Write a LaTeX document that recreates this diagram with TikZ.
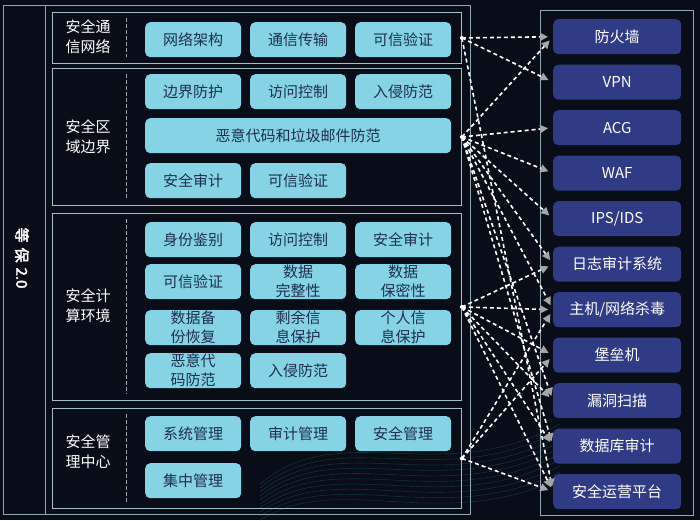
\documentclass[tikz,border=0pt]{standalone}
\usepackage{fontspec}
\setmainfont{Noto Sans CJK SC}
\newfontfamily\boldcjk[FakeBold=2.5]{Noto Sans CJK SC}
\usetikzlibrary{arrows.meta}
\definecolor{bg}{HTML}{080D17}
\definecolor{framec}{HTML}{8FA9B0}
\definecolor{secline}{HTML}{A3BEC4}
\definecolor{cyanbox}{HTML}{86D3E6}
\definecolor{cyantext}{HTML}{1E2F4C}
\definecolor{bluebox}{HTML}{2F3B85}
\definecolor{wavec}{HTML}{1B5563}
\begin{document}
\begin{tikzpicture}[x=1pt,y=-1pt,
  framel/.style={draw=framec, line width=0.8pt},
  secbox/.style={rectangle, draw=secline, line width=0.9pt, anchor=north west, inner sep=0pt, minimum width=409pt},
  divider/.style={draw=gray!70, dashed, dash pattern=on 4pt off 2pt, line width=0.8pt},
  cbox/.style={rectangle, rounded corners=5pt, fill=cyanbox, text=cyantext, minimum width=96pt, minimum height=35pt, inner sep=0pt, anchor=north west, align=center, font=\fontsize{15}{19}\selectfont},
  rbox/.style={rectangle, rounded corners=5pt, fill=bluebox, text=white, minimum width=128pt, minimum height=35pt, inner sep=0pt, anchor=north west, font=\fontsize{15}{18}\selectfont},
  lbl/.style={text=white, align=center, font=\fontsize{15}{20}\selectfont},
  flow/.style={draw=white, dash pattern=on 4pt off 3pt, line width=1.6pt, -{Triangle[length=8pt,width=8pt,color=gray!70]}, shorten >=5pt},
  wave/.style={draw=wavec, line width=0.6pt, opacity=0.5}
]
\fill[bg] (0,0) rectangle (700,520);
\useasboundingbox (0,0) rectangle (700,520);

% decorative waves at the bottom
\foreach \i in {0,...,9} {
  \draw[wave] (260,{520-\i*4}) .. controls (340,{470-\i*6}) and (440,{535-\i*5}) .. (560,{478-\i*6});
}

% outer frames
\draw[framel] (3,5) rectangle (470,514);
\draw[framel] (45,5) -- (45,514);
\draw[framel] (540,10) rectangle (693,515);

\node[text=white, rotate=-90, font=\boldcjk\fontsize{15}{18}\selectfont] (title) at (22,258) {等\,\,保\,\,2.0};

% sections
\node[secbox, minimum height=51pt] (s1) at (52,12) {};
\node[secbox, minimum height=137pt] (s2) at (52,68) {};
\node[secbox, minimum height=187pt] (s3) at (52,213) {};
\node[secbox, minimum height=100pt] (s4) at (52,408) {};

\draw[divider] (126,18) -- (126,57);
\draw[divider] (126,74) -- (126,199);
\draw[divider] (126,219) -- (126,394);
\draw[divider] (126,414) -- (126,502);

\node[lbl] (l1) at (88,37) {安全通\\信网络};
\node[lbl] (l2) at (88,137) {安全区\\域边界};
\node[lbl] (l3) at (88,306) {安全计\\算环境};
\node[lbl] (l4) at (88,452) {安全管\\理中心};

% section 1
\node[cbox] (a1) at (145,22) {网络架构};
\node[cbox] (a2) at (250,22) {通信传输};
\node[cbox] (a3) at (355,22) {可信验证};
% section 2
\node[cbox] (b1) at (145,74) {边界防护};
\node[cbox] (b2) at (250,74) {访问控制};
\node[cbox] (b3) at (355,74) {入侵防范};
\node[cbox, minimum width=306pt] (b4) at (145,118) {恶意代码和垃圾邮件防范};
\node[cbox] (b5) at (145,163) {安全审计};
\node[cbox] (b6) at (250,163) {可信验证};
% section 3
\node[cbox] (c1) at (145,222) {身份鉴别};
\node[cbox] (c2) at (250,222) {访问控制};
\node[cbox] (c3) at (355,222) {安全审计};
\node[cbox] (c4) at (145,264) {可信验证};
\node[cbox] (c5) at (250,264) {数据\\完整性};
\node[cbox] (c6) at (355,264) {数据\\保密性};
\node[cbox] (c7) at (145,310) {数据备\\份恢复};
\node[cbox] (c8) at (250,310) {剩余信\\息保护};
\node[cbox] (c9) at (355,310) {个人信\\息保护};
\node[cbox] (c10) at (145,353) {恶意代\\码防范};
\node[cbox] (c11) at (250,353) {入侵防范};
% section 4
\node[cbox] (d1) at (145,416) {系统管理};
\node[cbox] (d2) at (250,416) {审计管理};
\node[cbox] (d3) at (355,416) {安全管理};
\node[cbox] (d4) at (145,463) {集中管理};

% right products
\node[rbox] (r1) at (553,19) {防火墙};
\node[rbox] (r2) at (553,64.5) {VPN};
\node[rbox] (r3) at (553,110) {ACG};
\node[rbox] (r4) at (553,155.5) {WAF};
\node[rbox] (r5) at (553,201) {IPS/IDS};
\node[rbox] (r6) at (553,246.5) {日志审计系统};
\node[rbox] (r7) at (553,292) {主机/网络杀毒};
\node[rbox] (r8) at (553,337.5) {堡垒机};
\node[rbox] (r9) at (553,383) {漏洞扫描};
\node[rbox] (r10) at (553,428.5) {数据库审计};
\node[rbox] (r11) at (553,474) {安全运营平台};

% connectors
\foreach \t in {r1,r2,r11} \draw[flow] (s1.east) -- (\t.west);
\foreach \t in {r1,r3,r4,r5,r6,r7,r9,r10} \draw[flow] (s2.east) -- (\t.west);
\foreach \t in {r6,r7,r8,r9,r10,r11} \draw[flow] (s3.east) -- (\t.west);
\foreach \t in {r7,r8,r11} \draw[flow] (s4.east) -- (\t.west);

\foreach \s in {s1,s2,s3,s4} \fill[white] (\s.east) circle (2pt);
\end{tikzpicture}
\end{document}
